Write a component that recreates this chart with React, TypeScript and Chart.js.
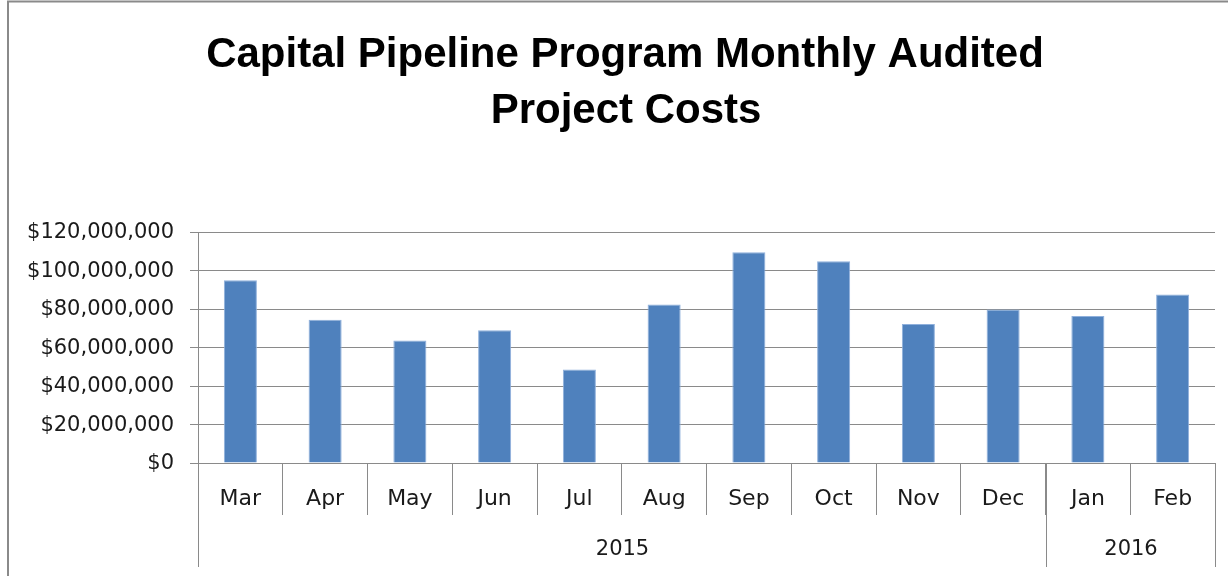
import React, { useEffect, useRef } from "react";
import { Chart, registerables } from "chart.js";

Chart.register(...registerables);

const titleLines = ["Capital Pipeline Program Monthly Audited", "Project Costs"];
const months = ["Mar", "Apr", "May", "Jun", "Jul", "Aug", "Sep", "Oct", "Nov", "Dec", "Jan", "Feb"];
const monthYears = ["2015", "2015", "2015", "2015", "2015", "2015", "2015", "2015", "2015", "2015", "2016", "2016"];
const costs = [95000000, 74400000, 63600000, 69000000, 48600000, 82300000, 109500000, 104800000, 72200000, 79700000, 76300000, 87500000];
const yMin = 0;
const yMax = 120000000;
const yStep = 20000000;

const AXIS_FONT = "'DejaVu Sans'";
const LINE_COLOR = "#8a8a8a";
const TEXT_COLOR = "#1a1a1a";

const decorPlugin = {
  id: "decor",
  afterDraw(chart: any) {
    const ctx = chart.ctx;
    const xs = chart.scales.x;
    const area = chart.chartArea;
    ctx.save();
    // frame
    ctx.strokeStyle = LINE_COLOR;
    ctx.lineWidth = 2;
    ctx.beginPath();
    ctx.moveTo(8, 576);
    ctx.lineTo(8, 1.5);
    ctx.lineTo(1228, 1.5);
    ctx.stroke();

    // title
    ctx.fillStyle = "#000";
    ctx.font = "bold 42px 'Liberation Sans'";
    ctx.textAlign = "center";
    ctx.textBaseline = "alphabetic";
    ctx.fillText(titleLines[0], 625, 67);
    ctx.fillText(titleLines[1], 626, 123);

    // year groups
    const w = xs.getPixelForValue(1) - xs.getPixelForValue(0);
    const groups: { year: string; start: number; end: number }[] = [];
    monthYears.forEach((y, i) => {
      const g = groups[groups.length - 1];
      if (g && g.year === y) g.end = i;
      else groups.push({ year: y, start: i, end: i });
    });
    ctx.strokeStyle = LINE_COLOR;
    ctx.lineWidth = 1;
    const yTop = area.bottom;
    const yBot = 567;
    ctx.font = "21px " + AXIS_FONT;
    ctx.fillStyle = TEXT_COLOR;
    ctx.textBaseline = "middle";
    groups.forEach((g, gi) => {
      const x0 = Math.round(xs.getPixelForValue(g.start) - w / 2) + 0.5;
      const x1 = Math.round(xs.getPixelForValue(g.end) + w / 2) + 0.5;
      ctx.beginPath();
      if (gi === 0) {
        ctx.moveTo(x0, yTop);
        ctx.lineTo(x0, yBot);
      }
      ctx.moveTo(x1, yTop);
      ctx.lineTo(x1, yBot);
      ctx.stroke();
      ctx.fillText(g.year, (x0 + x1) / 2, 550);
    });
    ctx.restore();
  },
};

export default function App() {
  const ref = useRef<HTMLCanvasElement | null>(null);
  useEffect(() => {
    if (!ref.current) return;
    const chart = new Chart(ref.current, {
      type: "bar",
      data: {
        labels: months,
        datasets: [
          {
            data: costs,
            backgroundColor: "#4f81bd",
            borderColor: "#8fb0dc",
            borderWidth: 1,
            barPercentage: 0.39,
            categoryPercentage: 1,
          },
        ],
      },
      options: {
        responsive: false,
        animation: false,
        layout: { padding: { top: 232, right: 13, bottom: 0, left: 0 } },
        plugins: { legend: { display: false }, tooltip: { enabled: false }, title: { display: false } },
        scales: {
          x: {
            offset: true,
            grid: {
              offset: true,
              drawOnChartArea: false,
              drawTicks: true,
              tickLength: 52,
              color: LINE_COLOR,
              lineWidth: 1,
            },
            border: { display: true, color: LINE_COLOR, width: 1 },
            ticks: {
              padding: -29,
              maxRotation: 0,
              autoSkip: false,
              color: TEXT_COLOR,
              font: { family: AXIS_FONT, size: 22 },
            },
            afterFit(scale: any) {
              scale.height = 113;
            },
          },
          y: {
            min: yMin,
            max: yMax,
            ticks: {
              stepSize: yStep,
              padding: 16,
              labelOffset: 1,
              color: TEXT_COLOR,
              font: { family: AXIS_FONT, size: 21 },
              callback: (v: any) => "$" + Number(v).toLocaleString("en-US"),
            },
            grid: { color: LINE_COLOR, lineWidth: 1, tickLength: 8, drawTicks: true },
            border: { display: true, color: LINE_COLOR, width: 1 },
            afterFit(scale: any) {
              scale.width = 198;
            },
          },
        },
      },
      plugins: [decorPlugin],
    });
    return () => chart.destroy();
  }, []);
  return (
    <canvas
      ref={ref}
      width={1228}
      height={576}
      style={{ position: "absolute", left: 0, top: 0, width: 1228, height: 576, display: "block", background: "#fff" }}
    />
  );
}
